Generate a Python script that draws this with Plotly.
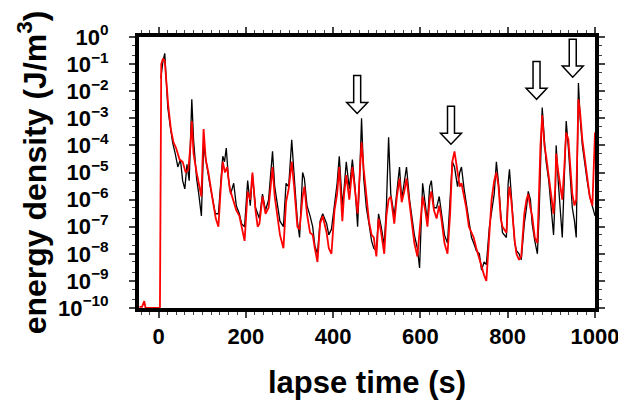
import plotly.graph_objects as go

# lapse time (s) and energy density (J/m^3)
black_t = [5, 10, 14, 18, 21, 26, 32, 38, 44, 50, 55, 60, 65, 70, 76, 80, 87, 92, 98, 103,
           110, 117, 124, 130, 137, 143, 147, 151, 155, 160, 165, 172, 178, 185, 190, 197, 204, 210, 215, 222,
           231, 238, 245, 252, 258, 261, 266, 272, 278, 286, 292, 298, 305, 311, 318, 323, 330, 334, 340, 347,
           353, 358, 364, 370, 376, 385, 390, 396, 403, 409, 414, 421, 425, 430, 437, 444, 450, 456, 461, 465,
           470, 476, 482, 488, 493, 499, 504, 510, 517, 522, 527, 532, 540, 546, 552, 557, 563, 568, 575, 580,
           586, 593, 598, 605, 611, 616, 621, 625, 631, 637, 643, 648, 655, 662, 668, 673, 678, 685, 690, 694,
           700, 705, 711, 717, 722, 728, 735, 740, 746, 751, 758, 763, 769, 774, 779, 784, 788, 797, 801, 804,
           808, 811, 816, 820, 826, 831, 838, 843, 847, 852, 856, 862, 868, 872, 875, 879, 884, 888, 894, 900,
           905, 909, 911, 916, 921, 925, 929, 934, 939, 944, 948, 953, 957, 962, 966, 971, 977, 982, 988, 994,
           1000]
black_e = [3e-2, 1.3e-1, 2.5e-1, 3e-2, 2.5e-3, 6e-4, 1.3e-4, 5e-5, 1.6e-5, 3e-5, 5e-6, 2.5e-6, 2e-5, 5e-6, 5e-3, 1.6e-4, 6e-6, 1.6e-6, 2.5e-7, 1e-4,
           1.6e-5, 4e-6, 1e-6, 3e-7, 3e-7, 6e-6, 4e-5, 2.5e-5, 8e-5, 6e-6, 1.6e-6, 4e-6, 6e-7, 3e-7, 1.3e-7, 1e-7, 5e-6, 6e-7, 8e-6, 5e-7,
           2e-7, 1.6e-6, 4e-7, 1e-6, 1e-5, 6e-5, 3e-6, 6e-7, 1.6e-7, 1e-7, 4e-6, 3e-6, 1.6e-4, 6e-6, 1.6e-7, 4e-8, 1e-5, 6e-6, 6e-7, 2.5e-7,
           1e-7, 2e-8, 1e-8, 1.6e-7, 3e-7, 1.3e-7, 5e-8, 8e-8, 6e-7, 4e-6, 4e-5, 6e-7, 2.5e-6, 2.5e-5, 2.5e-6, 3e-5, 3e-6, 1e-7, 1e-5, 1e-3,
           6e-6, 5e-7, 1.3e-7, 3e-8, 1.6e-8, 1.3e-8, 3e-7, 1e-7, 2e-8, 6e-7, 2e-4, 1.6e-6, 2.5e-7, 2.5e-6, 1.6e-5, 1e-6, 4e-6, 1.6e-5, 1e-6, 3e-7,
           5e-8, 1.6e-8, 3e-9, 4e-6, 6e-7, 1.6e-7, 3e-6, 5e-6, 5e-7, 5e-7, 1.3e-6, 3e-7, 5e-8, 2.5e-8, 1e-6, 2.5e-5, 1.6e-5, 3e-6, 1e-5, 1.6e-5,
           2.5e-6, 8e-7, 1.6e-7, 4e-8, 2.5e-8, 1.3e-8, 1e-8, 2.5e-9, 5e-9, 4e-9, 1e-7, 3e-7, 1.6e-6, 2.5e-5, 4e-6, 3e-7, 6e-8, 4e-8, 4e-6, 1.3e-5,
           1.6e-6, 2.5e-7, 2.5e-8, 1.3e-8, 1e-8, 6e-9, 1.3e-7, 5e-7, 2e-6, 1e-6, 1.3e-7, 3e-8, 1e-8, 3e-7, 3e-5, 2.5e-3, 1.6e-4, 2.5e-5, 5e-6, 5e-7,
           5e-8, 1.6e-6, 1e-4, 4e-6, 4e-7, 4e-8, 3e-6, 8e-4, 8e-5, 4e-6, 5e-7, 1.6e-7, 4e-8, 2e-2, 1e-3, 1e-4, 1.6e-5, 5e-6, 1.3e-6, 5e-7,
           2.5e-7]

red_t = [-44, -38, -33, -30, -20, 0, 3, 6, 10, 14, 18, 22, 28, 34, 40, 48, 55, 62, 68, 73,
         76, 80, 87, 92, 98, 103, 108, 114, 120, 126, 131, 137, 143, 147, 152, 157, 163, 170, 178, 185,
         192, 197, 204, 210, 215, 222, 227, 231, 238, 245, 252, 258, 261, 266, 272, 278, 286, 292, 298, 305,
         311, 318, 323, 330, 334, 340, 347, 353, 358, 364, 370, 376, 385, 390, 396, 403, 409, 414, 421, 425,
         430, 437, 444, 450, 456, 461, 465, 470, 476, 482, 488, 493, 499, 504, 510, 517, 522, 527, 532, 540,
         546, 552, 557, 563, 568, 575, 580, 586, 593, 598, 605, 611, 616, 621, 625, 631, 637, 643, 648, 655,
         662, 668, 673, 678, 685, 690, 694, 700, 705, 711, 717, 722, 728, 735, 740, 746, 751, 758, 763, 769,
         774, 779, 784, 788, 797, 801, 804, 808, 811, 816, 820, 826, 831, 838, 843, 847, 852, 856, 862, 868,
         872, 875, 879, 884, 888, 894, 900, 905, 909, 911, 916, 921, 925, 929, 934, 939, 944, 948, 953, 957,
         962, 966, 971, 977, 982, 988, 994, 997, 1000]
red_e = [1.1e-10, 1.1e-10, 1.8e-10, 1e-10, 1e-10, 1e-10, 1e-10, 1e-1, 1.6e-1, 1.3e-1, 1.6e-2, 3e-3, 4e-4, 1.3e-4, 8e-5, 3e-5, 2.5e-5, 1e-5, 1.3e-5, 1e-4,
         8e-4, 5e-5, 1e-5, 4e-6, 1.3e-6, 4e-4, 3e-5, 1e-5, 2e-6, 6e-7, 2e-7, 1e-7, 4e-6, 2.5e-5, 1e-5, 1.6e-5, 2.5e-6, 1e-6, 4e-7, 2.5e-7,
         6e-8, 3e-8, 2e-6, 1e-6, 1e-5, 4e-7, 1e-7, 1.3e-7, 1.3e-6, 3e-7, 5e-7, 6e-6, 1.6e-5, 1.3e-6, 3e-7, 5e-8, 1.6e-8, 8e-7, 2.5e-6, 2.5e-5,
         2.5e-6, 1e-7, 8e-8, 1.3e-6, 3e-6, 3e-7, 6e-8, 5e-8, 1.6e-8, 5e-9, 1.3e-7, 2.5e-7, 6e-8, 1.6e-8, 1e-8, 4e-7, 1.6e-6, 1.6e-5, 1.6e-7, 1.6e-6,
         8e-6, 1e-6, 1.6e-5, 1.6e-6, 3e-7, 1e-5, 1.3e-4, 1.3e-5, 1e-6, 1.6e-7, 5e-8, 4e-8, 8e-9, 2e-7, 6e-8, 1e-8, 2.5e-7, 1e-6, 1.3e-6, 1.3e-7,
         1.3e-6, 6e-6, 8e-7, 2e-6, 6e-6, 6e-7, 1.6e-7, 2.5e-8, 8e-9, 6e-8, 1.3e-6, 4e-7, 1e-7, 1e-6, 2e-6, 4e-7, 2e-7, 6e-7, 2e-7, 2.5e-8,
         1e-8, 3e-7, 2.5e-5, 6e-5, 8e-6, 3e-6, 4e-6, 1.3e-6, 5e-7, 1e-7, 6e-8, 4e-8, 1.6e-8, 6e-9, 3e-9, 1.6e-9, 1e-9, 6e-8, 1e-6, 5e-6,
         1e-5, 3e-6, 2e-7, 1e-7, 6e-8, 1e-6, 3e-6, 1e-6, 2.5e-7, 3e-8, 1e-8, 6e-9, 8e-9, 3e-7, 1e-6, 1.6e-6, 5e-7, 2.5e-7, 4e-8, 2.5e-8,
         2.5e-6, 1e-4, 1.3e-3, 1e-4, 4e-5, 6e-6, 1.3e-6, 3e-7, 3e-6, 5e-5, 1e-5, 3e-6, 1e-6, 1e-5, 3e-4, 1.6e-4, 1e-5, 1.6e-6, 6e-7, 1e-6,
         5e-3, 1.6e-3, 1.6e-4, 2.5e-5, 5e-6, 1.3e-6, 6e-7, 1e-5, 3e-4]

# open arrows marking events: time (s) and energy at the arrow tip
arrow_t = [455, 670, 866, 949]
arrow_tip = [1.5e-3, 1.1e-4, 5e-3, 3.3e-2]

fig = go.Figure()
fig.add_trace(go.Scatter(x=black_t, y=black_e, mode='lines',
                         line=dict(color='black', width=1.3), showlegend=False))
fig.add_trace(go.Scatter(x=red_t, y=red_e, mode='lines',
                         line=dict(color='#ff0000', width=1.8), showlegend=False))

# hollow down arrows; shape paths take raw data values on the log axis
for t, tip in zip(arrow_t, arrow_tip):
    hw, sw = 24, 8            # half widths of head and shaft, in seconds
    neck = tip * 10 ** 0.41   # where head meets shaft
    top = tip * 10 ** 1.40
    path = (f"M {t},{tip} L {t-hw},{neck} L {t-sw},{neck} L {t-sw},{top} "
            f"L {t+sw},{top} L {t+sw},{neck} L {t+hw},{neck} Z")
    fig.add_shape(type='path', path=path, xref='x', yref='y',
                  line=dict(color='black', width=1.5), fillcolor='white')

yvals = [10.0 ** -k for k in range(11)]
ytext = ['10<sup>0</sup>'] + [f'10<sup>\u2212{k}</sup>' for k in range(1, 11)]
xvals = [0, 200, 400, 600, 800, 1000]

fig.update_layout(
    width=626, height=404,
    margin=dict(l=131, r=39, t=29, b=104),
    paper_bgcolor='white', plot_bgcolor='white',
    font=dict(family='Liberation Sans, Arial', color='black'),
    xaxis=dict(range=[-45, 1000], showline=True, linewidth=4, linecolor='black',
               mirror='allticks', ticks='outside', ticklen=6, tickwidth=1.5,
               tickvals=xvals, ticktext=[f'<b>{v}</b>' for v in xvals],
               tickfont=dict(size=22), ticklabelstandoff=0, showgrid=False, zeroline=False,
               minor=dict(ticks='outside', ticklen=3, tickwidth=1, dtick=20, showgrid=False),
               title=dict(text='<b>lapse time (s)</b>', font=dict(size=31), standoff=24)),
    yaxis=dict(type='log', range=[-10, 0], showline=True, linewidth=4, linecolor='black',
               mirror='allticks', ticks='outside', ticklen=6, tickwidth=1.5,
               tickvals=yvals, ticktext=['<b>' + s + '</b>' for s in ytext],
               tickfont=dict(size=22), ticklabelstandoff=16, showgrid=False, zeroline=False,
               minor=dict(ticks='outside', ticklen=3, tickwidth=1, showgrid=False),
               title=dict(text='<b>energy density (J/m<sup>3</sup>)</b>', font=dict(size=32), standoff=3)),
)

fig.write_html("out.html")
